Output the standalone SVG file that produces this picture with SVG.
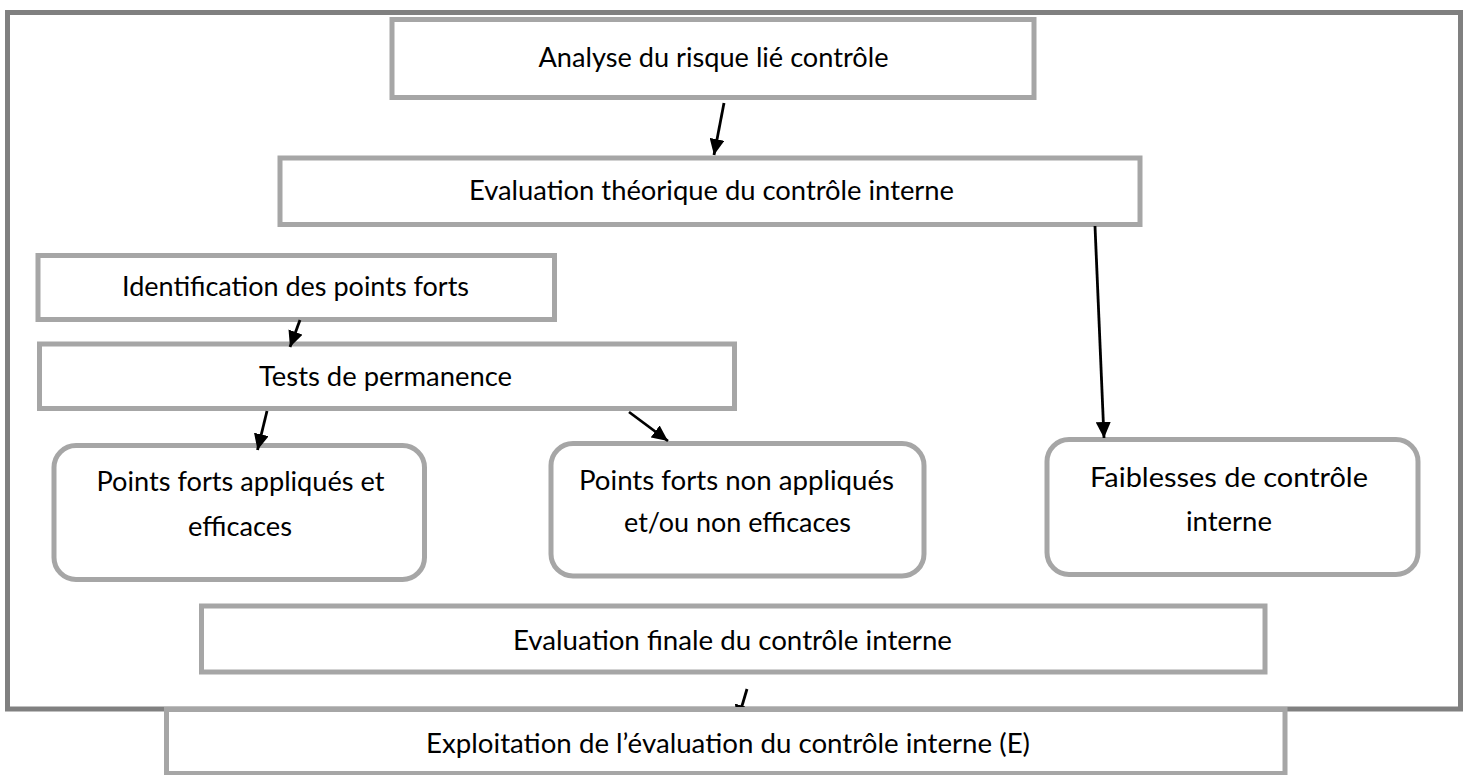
<svg xmlns="http://www.w3.org/2000/svg" width="1469" height="775" viewBox="0 0 1469 775">
<style>
.frame{fill:none;stroke:#808080;stroke-width:5}
.box{fill:#ffffff;stroke:#a6a6a6;stroke-width:5}
.lbl{font-family:Lato,"Liberation Sans",sans-serif;font-size:27px;fill:#000000;text-anchor:middle}
.conn{stroke:#000000;stroke-width:2.8;fill:none;marker-end:url(#ah)}
</style>
<defs>
<marker id="ah" markerWidth="16" markerHeight="15" refX="16" refY="7.5" orient="auto" markerUnits="userSpaceOnUse"><path d="M0,0 L16,7.5 L0,15 z" fill="#000000"/></marker>
<clipPath id="clipAbove"><rect x="0" y="0" width="1469" height="707"/></clipPath>
</defs>
<rect class="frame" x="7.5" y="12.5" width="1453" height="696.5"/>
<g id="n-analyse"><rect class="box" x="392" y="19.5" width="642" height="78"/><text class="lbl" x="713.5" y="67" textLength="350" lengthAdjust="spacingAndGlyphs">Analyse du risque lié contrôle</text></g>
<g id="n-theorique"><rect class="box" x="280" y="158" width="860" height="66.5"/><text class="lbl" x="711.5" y="200" textLength="485" lengthAdjust="spacingAndGlyphs">Evaluation théorique du contrôle interne</text></g>
<g id="n-identification"><rect class="box" x="38" y="255.5" width="516.5" height="64"/><text class="lbl" x="295.5" y="296" textLength="347" lengthAdjust="spacingAndGlyphs">Identification des points forts</text></g>
<g id="n-tests"><rect class="box" x="39.5" y="344" width="695" height="64.5"/><text class="lbl" x="385.5" y="386" textLength="253" lengthAdjust="spacingAndGlyphs">Tests de permanence</text></g>
<g id="n-appliques"><rect class="box" x="54" y="445.5" width="370.5" height="134" rx="22"/><text class="lbl" x="240.5" y="491" textLength="288" lengthAdjust="spacingAndGlyphs">Points forts appliqués et</text><text class="lbl" x="240" y="536" textLength="104" lengthAdjust="spacingAndGlyphs">efficaces</text></g>
<g id="n-non-appliques"><rect class="box" x="551" y="443.5" width="373" height="132.5" rx="22"/><text class="lbl" x="736.5" y="490" textLength="315" lengthAdjust="spacingAndGlyphs">Points forts non appliqués</text><text class="lbl" x="737.5" y="532" textLength="227" lengthAdjust="spacingAndGlyphs">et/ou non efficaces</text></g>
<g id="n-faiblesses"><rect class="box" x="1047" y="439.5" width="371" height="135" rx="22"/><text class="lbl" x="1229" y="487" textLength="278" lengthAdjust="spacingAndGlyphs">Faiblesses de contrôle</text><text class="lbl" x="1229" y="531" textLength="86" lengthAdjust="spacingAndGlyphs">interne</text></g>
<g id="n-finale"><rect class="box" x="201.5" y="606" width="1063.5" height="66"/><text class="lbl" x="732.5" y="650" textLength="439" lengthAdjust="spacingAndGlyphs">Evaluation finale du contrôle interne</text></g>
<g id="n-exploitation"><rect class="box" x="166.5" y="709.5" width="1118.5" height="64"/><text class="lbl" x="728" y="753" textLength="604" lengthAdjust="spacingAndGlyphs">Exploitation de l’évaluation du contrôle interne (E)</text></g>
<g id="connectors">
<line class="conn" x1="724" y1="103" x2="714" y2="155"/>
<line class="conn" x1="1095" y1="226" x2="1104" y2="438"/>
<line class="conn" x1="300" y1="320" x2="290" y2="347"/>
<line class="conn" x1="267" y1="411" x2="257.5" y2="450"/>
<line class="conn" x1="629" y1="412" x2="668" y2="441"/>
<line class="conn" x1="747" y1="689" x2="737.5" y2="721" clip-path="url(#clipAbove)"/>
</g>
</svg>
